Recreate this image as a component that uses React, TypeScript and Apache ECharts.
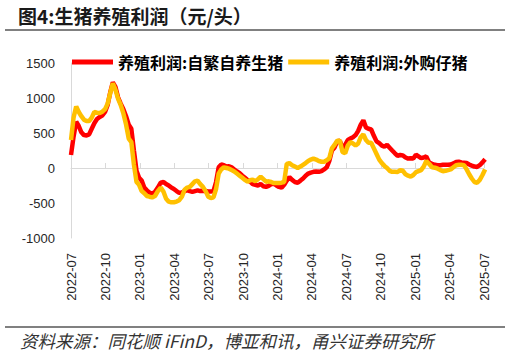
import React, { useEffect, useRef } from "react";
import * as echarts from "echarts";

// Weekly data starting 2022-07-01
const START_DATE = "2022-07-01";
const seriesNames = ["养殖利润:自繁自养生猪", "养殖利润:外购仔猪"];
const xTickLabels = [
  "2022-07", "2022-10", "2023-01", "2023-04", "2023-07", "2023-10", "2024-01",
  "2024-04", "2024-07", "2024-10", "2025-01", "2025-04", "2025-07",
];
const yTicks = { min: -1000, max: 1500, interval: 500 };

const selfBred = [
  186, 450, 660, 600, 510, 470, 465, 480, 560, 640,
  700, 730, 750, 800, 900, 1080, 1225, 1160, 1010, 920,
  840, 740, 620, 560, 250, -40, -140, -180, -280, -320,
  -350, -370, -340, -280, -210, -200, -230, -250, -280, -300,
  -330, -355, -350, -330, -315, -330, -340, -330, -320, -330,
  -325, -330, -335, -335, -330, -200, 10, 50, 40, 20,
  25, 10, -20, -50, -75, -110, -140, -170, -195, -230,
  -240, -250, -230, -260, -270, -255, -230, -225, -250, -270,
  -280, -240, -180, -130, -170, -200, -210, -180, -150, -110,
  -80, -65, -55, -50, -55, -45, -20, 10, 100, 250,
  290, 380, 390, 280, 330, 400, 420, 440, 470, 530,
  620, 680, 580, 560, 550, 460, 380, 355, 320, 305,
  330, 290, 250, 210, 175, 185, 180, 150, 135, 140,
  135, 190, 165, 140, 150, 165, 80, 60, 45, 40,
  40, 45, 45, 45, 50, 65, 85, 90, 80, 75,
  70, 50, 35, 20, 15, 40, 80, 125,
];

const purchasedPiglet = [
  400, 720, 880, 800, 740, 690, 670, 670, 720, 800,
  790, 785, 805, 840, 920, 1070, 1210, 1120, 990, 900,
  780, 620, 420, 370, 50, -200, -240, -330, -360, -400,
  -410, -420, -400, -330, -280, -340, -440, -480, -490, -490,
  -480, -460, -410, -310, -280, -270, -230, -190, -180, -230,
  -270, -330, -410, -430, -420, -300, -80, -20, 10, 0,
  -10, -30, -50, -80, -110, -140, -170, -195, -175, -165,
  -190, -160, -125, -160, -195, -190, -200, -215, -214, -215,
  -210, -200, 60, 70, 40, 20, 0, 20, 45, 70,
  100, 120, 135, 120, 100, 90, 90, 110, 140, 280,
  330, 390, 390, 230, 210, 320, 370, 350, 320, 350,
  440, 480, 400, 360, 360, 280, 200, 120, 70, 30,
  0, -40, -55, -55, -57, -30, -40, -90, -110, -124,
  -100, -60, -45, -30, 20, 100, 60, 10, 5, -10,
  -30, -45, -40, -30, -20, 10, 40, 45, 45, 40,
  -20, -90, -150, -200, -210, -170, -100, -20,
];

function monthsSinceStart(d: Date): number {
  const y = d.getUTCFullYear();
  const m = d.getUTCMonth();
  const day = d.getUTCDate();
  const dim = new Date(Date.UTC(y, m + 1, 0)).getUTCDate();
  return (y - 2022) * 12 + (m - 6) + (day - 1) / dim;
}

function buildSeries(values: number[]): [number, number][] {
  const start = new Date(START_DATE + "T00:00:00Z").getTime();
  return values.map((v, i) => {
    const d = new Date(start + i * 7 * 86400000);
    return [monthsSinceStart(d), v];
  });
}

export default function App() {
  const ref = useRef<HTMLDivElement>(null);
  useEffect(() => {
    if (!ref.current) return;
    const chart = echarts.init(ref.current, null, { renderer: "svg" });
    const cjk = "'Noto Sans CJK SC', sans-serif";
    const latin = "'Liberation Sans', Arial, sans-serif";
    chart.setOption({
      animation: false,
      backgroundColor: "#ffffff",
      grid: { left: 71, top: 63, width: 413, height: 175, containLabel: false },
      legend: {
        left: 72,
        top: 54,
        padding: 0,
        data: seriesNames.map((n) => ({ name: n, icon: "rect" })),
        itemWidth: 41,
        itemHeight: 5,
        itemGap: 5,
        itemTextGap: 4,
        textStyle: { fontSize: 16, fontWeight: "bold", color: "#000", fontFamily: cjk },
      },
      xAxis: [
        {
          type: "value",
          min: 0,
          max: 36,
          interval: 3,
          position: "bottom",
          axisLine: { show: false, onZero: false },
          axisTick: { show: false },
          splitLine: { show: false },
          axisLabel: {
            rotate: 90,
            fontSize: 13,
            margin: 15,
            color: "#262626",
            fontFamily: latin,
            formatter: (v: number) => xTickLabels[Math.round(v / 3)] ?? "",
          },
        },
        {
          type: "value",
          min: 0,
          max: 36,
          interval: 3,
          axisLine: { show: true, onZero: true, lineStyle: { color: "#d9d9d9", width: 1 } },
          axisTick: { show: true, length: 5, lineStyle: { color: "#d9d9d9" } },
          axisLabel: { show: false },
          splitLine: { show: false },
        },
      ],
      yAxis: {
        type: "value",
        min: yTicks.min,
        max: yTicks.max,
        interval: yTicks.interval,
        axisLine: { show: true, onZero: false, lineStyle: { color: "#d9d9d9", width: 1 } },
        axisTick: { show: false },
        splitLine: { show: false },
        axisLabel: {
          fontSize: 13,
          margin: 16,
          color: "#262626",
          fontFamily: latin,
          formatter: (v: number) => String(v),
        },
      },
      series: [
        {
          name: seriesNames[0],
          type: "line",
          xAxisIndex: 1,
          data: buildSeries(selfBred),
          showSymbol: false,
          clip: false,
          lineStyle: { width: 4.5, color: "#ff0000" },
          itemStyle: { color: "#ff0000" },
        },
        {
          name: seriesNames[1],
          type: "line",
          xAxisIndex: 1,
          data: buildSeries(purchasedPiglet),
          showSymbol: false,
          clip: false,
          lineStyle: { width: 4.5, color: "#ffc000" },
          itemStyle: { color: "#ffc000" },
        },
      ],
      graphic: [
        {
          type: "text",
          left: 18,
          top: 6,
          style: {
            text: "图4:生猪养殖利润（元/头）",
            fontSize: 19,
            fontWeight: "bold",
            fontFamily: cjk,
            fill: "#1a1a1a",
          },
        },
        {
          type: "line",
          shape: { x1: 5, y1: 30, x2: 505, y2: 30 },
          style: { stroke: "#808080", lineWidth: 2 },
        },
        {
          type: "line",
          shape: { x1: 5, y1: 327, x2: 505, y2: 327 },
          style: { stroke: "#808080", lineWidth: 2 },
        },
        {
          type: "text",
          left: 20,
          top: 332,
          style: {
            text: "资料来源：同花顺 iFinD，博亚和讯，甬兴证券研究所",
            fontSize: 17.5,
            fontStyle: "italic",
            fontFamily: cjk,
            fill: "#333",
          },
        },
      ],
    });
    return () => chart.dispose();
  }, []);
  return (
    <div
      ref={ref}
      style={{ position: "fixed", left: 0, top: 0, width: 509, height: 354 }}
    />
  );
}
